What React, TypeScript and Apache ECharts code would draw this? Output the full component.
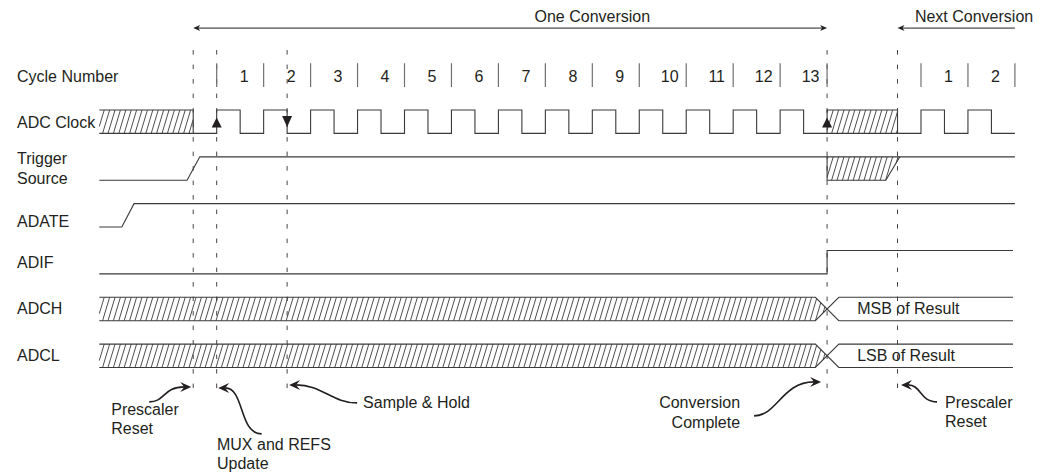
import React, { useEffect, useRef } from "react";
import * as echarts from "echarts";

type P = [number, number];

// ---- axis domain: time in ADC clock periods (0 = first rising edge of cycle 1), level in half-rows ----
const T_MIN = -2.5;
const T_MAX = 17;
const V_MIN = -4.7;
const V_MAX = 15.55;

// ---- cycle numbering ----
const cycleNumbers = ["1", "2", "3", "4", "5", "6", "7", "8", "9", "10", "11", "12", "13"];
const cycleCenters = [0.5, 1.5, 2.5, 3.5, 4.5, 5.5, 6.5, 7.5, 8.5, 9.5, 10.5, 11.5, 12.5];
const nextCycleNumbers = ["1", "2"];
const nextCycleCenters = [15.5, 16.5];
const cycleSeparators = [0, 1, 2, 3, 4, 5, 6, 7, 8, 9, 10, 11, 12, 13, 15, 16, 17];
const cycleRowLevel = -1.45;
const separatorSpan: P = [-2.0, -0.98];

// ---- event markers (dashed verticals) ----
const markerTimes = [-0.5, 0, 1.5, 13, 14.5];
const markerSpan: P = [-2.56, 12.26];

// ---- signal names ----
const signalNames = ["Cycle Number", "ADC Clock", "Trigger\nSource", "ADATE", "ADIF", "ADCH", "ADCL"];
const signalLabelLevels = [-1.45, 0.53, 2.48, 4.75, 6.5, 8.5, 10.5];

// ---- levels (high, low) of the clock row ----
const CLK_H = 0, CLK_L = 1;

// ADC clock high pulses [rise, fall]
const clockHighPulses: P[] = [
  [0, 0.5], [1, 1.5], [2, 2.5], [3, 3.5], [4, 4.5], [5, 5.5], [6, 6.5],
  [7, 7.5], [8, 8.5], [9, 9.5], [10, 10.5], [11, 11.5], [12, 12.5],
  [15, 15.5], [16, 16.5],
];

// waveform polylines [time, level]
const clockHatchEdge1: P[] = [[-2.5, 0], [-0.5, 0], [-0.5, 1]];
const clockHatchEdge2: P[] = [[13, 1], [13, 0], [14.5, 0], [14.5, 1]];
const triggerWave: P[] = [[-2.5, 3], [-0.63, 3], [-0.36, 2], [17, 2]];
const triggerUnknown: P[] = [[13, 2], [13, 3], [14.25, 3], [14.55, 2]];
const adateWave: P[] = [[-2.5, 5], [-2.02, 5], [-1.76, 4], [17, 4]];
const adifWave: P[] = [[-2.5, 7], [13, 7], [13, 6], [16.96, 6]];
const adchTop: P[] = [[-2.5, 8], [12.75, 8], [13.25, 9], [16.96, 9]];
const adchBottom: P[] = [[-2.5, 9], [12.75, 9], [13.25, 8], [16.96, 8]];
const adclTop: P[] = [[-2.5, 10], [12.75, 10], [13.25, 11], [16.96, 11]];
const adclBottom: P[] = [[-2.5, 11], [12.75, 11], [13.25, 10], [16.96, 10]];

// hatched (undefined) regions
const hatchRegions: P[][] = [
  [[-2.5, 0], [-0.5, 0], [-0.5, 1], [-2.5, 1]],
  [[13, 0], [14.5, 0], [14.5, 1], [13, 1]],
  [[13, 2], [14.55, 2], [14.25, 3], [13, 3]],
  [[-2.5, 8], [12.75, 8], [13, 8.5], [12.75, 9], [-2.5, 9]],
  [[-2.5, 10], [12.75, 10], [13, 10.5], [12.75, 11], [-2.5, 11]],
];

// bus values
const busTexts = ["MSB of Result", "LSB of Result"];
const busTextPos: P[] = [[13.64, 8.5], [13.64, 10.5]];

// clock edge indicators
const edgeMarkTimes = [0, 1.5, 13];
const edgeMarkDirs = ["up", "down", "up"];

// conversion spans
const conversionTitles = ["One Conversion", "Next Conversion"];
const conversionTitlePos: P[] = [[8.0, -4.0], [16.13, -4.0]];
const oneConversionSpan: P = [-0.5, 13];
const nextConversionSpan: P = [14.5, 17];
const spanArrowLevel = -3.5;

// annotations under the diagram
const annotationTexts = ["Prescaler\nReset", "MUX and REFS\nUpdate", "Sample & Hold", "Conversion\nComplete", "Prescaler\nReset"];
const annotationMarkers = [-0.5, 0, 1.5, 13, 14.5];
const ANNOT_LEVEL = 12;
const annotationLayout = [
  { tip: [-2, -4], dir: 1, start: [-44, 11], c1: [-28, 11], c2: [-30, -4], textX: -82, textY: 28, align: "left", lh: 19 },
  { tip: [1.5, -3], dir: -1, start: [45, 43], c1: [22, 43], c2: [28, -3], textX: 0.3, textY: 63.5, align: "left", lh: 19 },
  { tip: [2, -6], dir: -1, start: [70, 12], c1: [45, 12], c2: [35, -6], textX: 76, textY: 12, align: "left", lh: 20 },
  { tip: [-6, -9], dir: 1, start: [-73, 25], c1: [-50, 25], c2: [-45, -9], textX: -87, textY: 22, align: "right", lh: 20 },
  { tip: [3.5, -6], dir: -1, start: [39.5, 11], c1: [22, 11], c2: [24, -6], textX: 47.5, textY: 21.5, align: "left", lh: 19 },
];

const INK = "#231f20";
const WIRE = "#3a3a3a";
const GRAY = "#707070";
const FONT = '"Liberation Sans", Arial, Helvetica, sans-serif';

function txt(x: number, y: number, text: string, align = "left", size = 16, lh = 20) {
  return {
    type: "text",
    x,
    y,
    silent: true,
    style: {
      text,
      fill: INK,
      fontSize: size,
      fontFamily: FONT,
      align,
      verticalAlign: "middle",
      textAlign: align,
      textVerticalAlign: "middle",
      lineHeight: lh,
    },
  };
}

function poly(api: any, pts: P[], color = WIRE, width = 1.1) {
  return {
    type: "polyline",
    silent: true,
    shape: { points: pts.map((p) => api.coord(p)) },
    style: { stroke: color, lineWidth: width, fill: "none" },
  };
}

function head(tx: number, ty: number, dir: number, len = 10, half = 4.5, notch = 7) {
  return {
    type: "polygon",
    silent: true,
    shape: {
      points: [
        [tx, ty],
        [tx - dir * len, ty - half],
        [tx - dir * notch, ty],
        [tx - dir * len, ty + half],
      ],
    },
    style: { fill: INK, stroke: "none" },
  };
}

function clipToConvex(p0: number[], p1: number[], pg: number[][]): number[][] | null {
  let area = 0;
  for (let i = 0; i < pg.length; i++) {
    const a = pg[i], b = pg[(i + 1) % pg.length];
    area += a[0] * b[1] - b[0] * a[1];
  }
  const dx = p1[0] - p0[0], dy = p1[1] - p0[1];
  let tE = 0, tL = 1;
  for (let i = 0; i < pg.length; i++) {
    const a = pg[i], b = pg[(i + 1) % pg.length];
    const ex = b[0] - a[0], ey = b[1] - a[1];
    let nx = -ey, ny = ex;
    if (area < 0) { nx = -nx; ny = -ny; }
    const num = nx * (p0[0] - a[0]) + ny * (p0[1] - a[1]);
    const den = nx * dx + ny * dy;
    if (Math.abs(den) < 1e-9) {
      if (num < 0) return null;
      continue;
    }
    const t = -num / den;
    if (den > 0) tE = Math.max(tE, t);
    else tL = Math.min(tL, t);
    if (tE > tL) return null;
  }
  return [
    [p0[0] + dx * tE, p0[1] + dy * tE],
    [p0[0] + dx * tL, p0[1] + dy * tL],
  ];
}

function hatch(api: any, region: P[], spacing = 5.4, slant = 0.3) {
  const pg = region.map((p) => api.coord(p) as number[]);
  const xs = pg.map((p) => p[0]);
  const ys = pg.map((p) => p[1]);
  const minX = Math.min(...xs), maxX = Math.max(...xs);
  const minY = Math.min(...ys), maxY = Math.max(...ys);
  const off = (maxY - minY) * slant;
  const children: any[] = [];
  for (let x = Math.floor((minX - off) / spacing) * spacing; x <= maxX + spacing; x += spacing) {
    const c = clipToConvex([x, maxY], [x + off, minY], pg);
    if (c) {
      children.push({
        type: "line",
        silent: true,
        shape: { x1: c[0][0], y1: c[0][1], x2: c[1][0], y2: c[1][1] },
        style: { stroke: WIRE, lineWidth: 0.9 },
      });
    }
  }
  return { type: "group", children };
}

function layer(id: string, count: number, render: (i: number, api: any) => any) {
  return {
    type: "custom",
    id,
    coordinateSystem: "cartesian2d",
    clip: false,
    silent: true,
    data: Array.from({ length: count }, () => [T_MIN, V_MIN]),
    renderItem: (params: any, api: any) => render(params.dataIndex, api),
  };
}

export default function App() {
  const ref = useRef<HTMLDivElement>(null);

  useEffect(() => {
    if (!ref.current) return;
    const chart = echarts.init(ref.current, undefined, { renderer: "svg" });

    const clockWave: P[] = [[T_MIN, CLK_L]];
    clockHighPulses.forEach(([r, f]) => {
      clockWave.push([r, CLK_L], [r, CLK_H], [f, CLK_H], [f, CLK_L]);
    });
    clockWave.push([T_MAX, CLK_L]);

    const wires: P[][] = [
      clockWave, clockHatchEdge1, clockHatchEdge2, triggerWave, triggerUnknown,
      adateWave, adifWave, adchTop, adchBottom, adclTop, adclBottom,
    ];

    const series: any[] = [
      layer("markers", markerTimes.length, (i, api) => {
        const a = api.coord([markerTimes[i], markerSpan[0]]);
        const b = api.coord([markerTimes[i], markerSpan[1]]);
        return {
          type: "line",
          silent: true,
          shape: { x1: a[0], y1: a[1], x2: b[0], y2: b[1] },
          style: { stroke: "#444", lineWidth: 1, lineDash: [4.5, 10] },
        };
      }),
      layer("hatch", hatchRegions.length, (i, api) => hatch(api, hatchRegions[i])),
      layer("wires", wires.length, (i, api) => poly(api, wires[i])),
      layer("separators", cycleSeparators.length, (i, api) => {
        const a = api.coord([cycleSeparators[i], separatorSpan[0]]);
        const b = api.coord([cycleSeparators[i], separatorSpan[1]]);
        return {
          type: "line",
          silent: true,
          shape: { x1: a[0], y1: a[1], x2: b[0], y2: b[1] },
          style: { stroke: GRAY, lineWidth: 1.2 },
        };
      }),
      layer("cycles", cycleNumbers.length, (i, api) => {
        const p = api.coord([cycleCenters[i], cycleRowLevel]);
        const off = cycleNumbers[i].length > 1 ? 7 : 4;
        return txt(p[0] + off, p[1], cycleNumbers[i], "center");
      }),
      layer("nextCycles", nextCycleNumbers.length, (i, api) => {
        const p = api.coord([nextCycleCenters[i], cycleRowLevel]);
        return txt(p[0] + 4, p[1], nextCycleNumbers[i], "center");
      }),
      layer("names", signalNames.length, (i, api) => {
        const p = api.coord([T_MIN, signalLabelLevels[i]]);
        return txt(17, p[1], signalNames[i], "left", 16, 20);
      }),
      layer("bus", busTexts.length, (i, api) => {
        const p = api.coord(busTextPos[i]);
        return txt(p[0], p[1], busTexts[i], "left");
      }),
      layer("edges", edgeMarkTimes.length, (i, api) => {
        const t = edgeMarkTimes[i];
        if (edgeMarkDirs[i] === "up") {
          const b = api.coord([t, CLK_L]);
          const base = b[1] - 6, tip = b[1] - 16;
          return {
            type: "polygon",
            silent: true,
            shape: { points: [[b[0], tip], [b[0] - 5, base], [b[0] + 5, base]] },
            style: { fill: INK },
          };
        }
        const b = api.coord([t, CLK_H]);
        const base = b[1] + 6, tip = b[1] + 17;
        return {
          type: "polygon",
          silent: true,
          shape: { points: [[b[0], tip], [b[0] - 5, base], [b[0] + 5, base]] },
          style: { fill: INK },
        };
      }),
      layer("spans", 1, (_i, api) => {
        const a = api.coord([oneConversionSpan[0], spanArrowLevel]);
        const b = api.coord([oneConversionSpan[1], spanArrowLevel]);
        const c = api.coord([nextConversionSpan[0], spanArrowLevel]);
        const d = api.coord([nextConversionSpan[1], spanArrowLevel]);
        return {
          type: "group",
          children: [
            { type: "line", silent: true, shape: { x1: a[0] + 4, y1: a[1], x2: b[0] - 4, y2: b[1] }, style: { stroke: INK, lineWidth: 1 } },
            head(a[0], a[1], -1, 7, 3, 5),
            head(b[0], b[1], 1, 7, 3, 5),
            { type: "line", silent: true, shape: { x1: c[0] + 4, y1: c[1], x2: d[0], y2: d[1] }, style: { stroke: INK, lineWidth: 1 } },
            head(c[0], c[1], -1, 7, 3, 5),
          ],
        };
      }),
      layer("titles", conversionTitles.length, (i, api) => {
        const p = api.coord(conversionTitlePos[i]);
        return txt(p[0], p[1], conversionTitles[i], "center");
      }),
      layer("annotations", annotationTexts.length, (i, api) => {
        const m = api.coord([annotationMarkers[i], ANNOT_LEVEL]);
        const L = annotationLayout[i];
        const tx = m[0] + L.tip[0], ty = m[1] + L.tip[1];
        const ex = tx - L.dir * 7;
        return {
          type: "group",
          children: [
            {
              type: "bezierCurve",
              silent: true,
              shape: {
                x1: m[0] + L.start[0], y1: m[1] + L.start[1],
                cpx1: m[0] + L.c1[0], cpy1: m[1] + L.c1[1],
                cpx2: m[0] + L.c2[0], cpy2: m[1] + L.c2[1],
                x2: ex, y2: ty,
              },
              style: { stroke: INK, lineWidth: 1.6, fill: "none" },
            },
            head(tx, ty, L.dir, 11, 5, 7),
            txt(m[0] + L.textX, m[1] + L.textY, annotationTexts[i], L.align, 16, L.lh),
          ],
        };
      }),
    ];

    chart.setOption({
      animation: false,
      grid: { left: 99.3, right: 39.1, top: 0, bottom: 0, containLabel: false },
      xAxis: { type: "value", min: T_MIN, max: T_MAX, show: false },
      yAxis: { type: "value", min: V_MIN, max: V_MAX, inverse: true, show: false },
      series,
    });

    return () => chart.dispose();
  }, []);

  return (
    <div
      ref={ref}
      style={{ position: "absolute", left: 0, top: 0, width: 1054, height: 474, background: "#fff" }}
    />
  );
}
